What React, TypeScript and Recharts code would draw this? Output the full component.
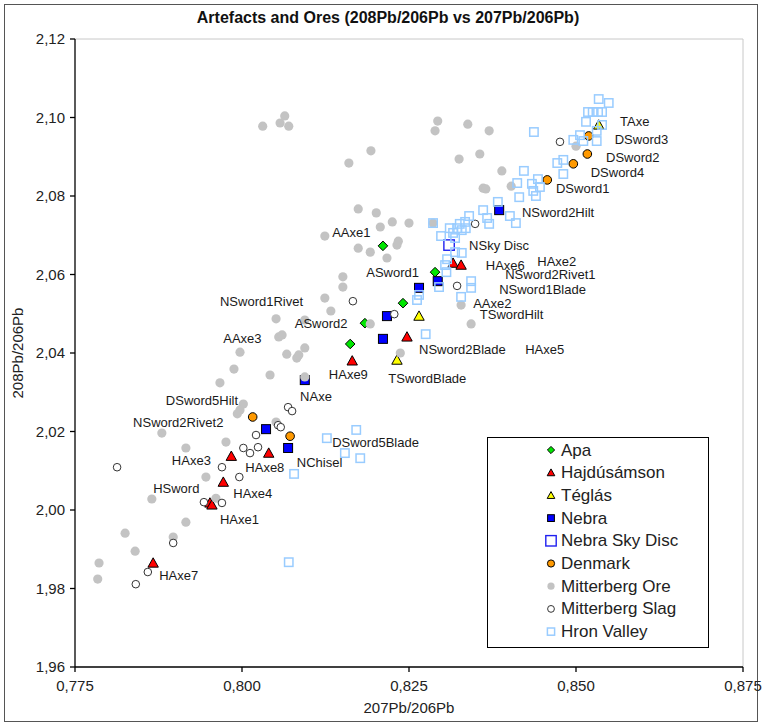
import { ScatterChart, Scatter, XAxis, YAxis, ReferenceLine } from "recharts"

const FONT = '"Liberation Sans", Arial, sans-serif'

const xTicks = [0.775, 0.8, 0.825, 0.85, 0.875]
const yTicks = [1.96, 1.98, 2.0, 2.02, 2.04, 2.06, 2.08, 2.1, 2.12]

// 207Pb/206Pb, 208Pb/206Pb pairs
const apa = [
  [0.8211, 2.0673], [0.8289, 2.0606], [0.8241, 2.0527], [0.8184, 2.0476], [0.8162, 2.0423],
]
const hajdusamson = [
  [0.8316, 2.0629], [0.8328, 2.0624], [0.8247, 2.0441], [0.8165, 2.038], [0.7984, 2.0137],
  [0.804, 2.0145], [0.7972, 2.0071], [0.7952, 2.0018], [0.7955, 2.0013], [0.7867, 1.9865],
]
const teglas = [[0.8265, 2.0494], [0.8232, 2.0382], [0.8534, 2.0981]]
const nebra = [
  [0.8385, 2.0764], [0.8293, 2.0583], [0.8265, 2.0566], [0.8217, 2.0494],
  [0.8211, 2.0436], [0.8094, 2.0331], [0.8036, 2.0206], [0.8069, 2.0158],
]
const skyDisc = [[0.831, 2.0675]]
const denmark = [
  [0.8519, 2.0953], [0.8517, 2.0907], [0.8496, 2.0882], [0.8457, 2.0841], [0.8016, 2.0237], [0.8072, 2.0188],
]
const mitterbergOre = [
  [0.8293, 2.0991], [0.8289, 2.0966], [0.8338, 2.0983], [0.837, 2.0966], [0.8193, 2.0915],
  [0.816, 2.0884], [0.8325, 2.0894], [0.8356, 2.0907], [0.8389, 2.0864], [0.8361, 2.082],
  [0.8365, 2.0818], [0.8403, 2.0825], [0.8174, 2.0767], [0.8201, 2.0757], [0.8225, 2.0734],
  [0.825, 2.0731], [0.8207, 2.0721], [0.8124, 2.0698], [0.8286, 2.0731], [0.8174, 2.0667],
  [0.8192, 2.0657], [0.8234, 2.0685], [0.8232, 2.0675], [0.8217, 2.0642], [0.8151, 2.0594],
  [0.8151, 2.0568], [0.8124, 2.054], [0.8133, 2.0507], [0.8094, 2.0484], [0.8192, 2.0474],
  [0.8328, 2.0522], [0.8343, 2.0474], [0.8094, 2.0413], [0.8237, 2.04], [0.8094, 2.0339],
  [0.8051, 2.0487], [0.8055, 2.0441], [0.806, 2.0446], [0.7997, 2.0402], [0.8067, 2.0397],
  [0.8082, 2.0387], [0.8085, 2.0395], [0.7988, 2.0359], [0.8042, 2.0344], [0.7967, 2.0324],
  [0.8002, 2.027], [0.7997, 2.0255], [0.7993, 2.0245], [0.8051, 2.0224], [0.7976, 2.0173],
  [0.788, 2.0196], [0.7916, 2.0158], [0.7946, 2.0084], [0.7865, 2.0028], [0.7961, 2.003],
  [0.7916, 1.9969], [0.7825, 1.9941], [0.7897, 1.9931], [0.784, 1.9895], [0.7786, 1.9865],
  [0.7784, 1.9824], [0.8031, 2.0978], [0.8057, 2.0986], [0.8064, 2.1004], [0.807, 2.0978],
  [0.85, 2.0927],
]
const mitterbergSlag = [
  [0.8349, 2.0729], [0.8322, 2.0571], [0.8166, 2.0532], [0.8228, 2.0499], [0.8476, 2.0938],
  [0.8021, 2.0191], [0.8054, 2.0216], [0.8058, 2.0211], [0.8069, 2.0262], [0.8075, 2.0252],
  [0.8002, 2.0158], [0.8012, 2.0145], [0.8024, 2.016], [0.797, 2.0109], [0.7813, 2.0109],
  [0.7996, 2.0084], [0.7943, 2.002], [0.797, 2.0018], [0.7897, 1.9916], [0.7859, 1.9842],
  [0.7841, 1.9811],
]
const hronValley = [
  [0.8437, 2.0963], [0.8534, 2.1047], [0.8549, 2.1037], [0.8518, 2.1014], [0.8525, 2.1014],
  [0.8533, 2.1014], [0.8539, 2.1014], [0.8515, 2.0989], [0.8539, 2.0981], [0.8531, 2.0966],
  [0.8506, 2.0955], [0.8496, 2.0943], [0.8511, 2.094], [0.8531, 2.094], [0.8472, 2.0884],
  [0.8481, 2.0892], [0.8481, 2.0856], [0.8422, 2.0864], [0.8412, 2.0833], [0.8434, 2.0831],
  [0.8443, 2.0843], [0.8436, 2.0813], [0.8446, 2.0823], [0.844, 2.08], [0.8415, 2.0797],
  [0.8383, 2.0785], [0.8361, 2.0764], [0.8367, 2.0744], [0.8401, 2.0749], [0.841, 2.0731],
  [0.837, 2.0729], [0.834, 2.0749], [0.8334, 2.0734], [0.8326, 2.0729], [0.8322, 2.0718],
  [0.8316, 2.0706], [0.8319, 2.0693], [0.8298, 2.0698], [0.8286, 2.0731], [0.8329, 2.0655],
  [0.8319, 2.0657], [0.8307, 2.0639], [0.8304, 2.0624], [0.8306, 2.0606], [0.8343, 2.0583],
  [0.8343, 2.0566], [0.8295, 2.0568], [0.8328, 2.0543], [0.8262, 2.0535], [0.8265, 2.0548],
  [0.8275, 2.0448], [0.8171, 2.0204], [0.8127, 2.0183], [0.8154, 2.0145], [0.8177, 2.0132],
  [0.8078, 2.0092], [0.807, 1.9867], [0.8329, 2.0713], [0.8311, 2.0718], [0.8335, 2.0718],
]

// sample names, placed where the labels sit (left edge, middle)
const labelNames = [
  "TAxe", "DSword3", "DSword2", "DSword4", "DSword1", "NSword2Hilt", "NSky Disc", "AAxe1",
  "ASword1", "HAxe6", "HAxe2", "NSword2Rivet1", "NSword1Blade", "AAxe2", "TSwordHilt",
  "NSword1Rivet", "ASword2", "AAxe3", "NSword2Blade", "HAxe5", "HAxe9", "TSwordBlade", "NAxe",
  "DSword5Hilt", "NSword2Rivet2", "DSword5Blade", "HAxe3", "NChisel", "HAxe8", "HSword",
  "HAxe4", "HAxe1", "HAxe7",
]
const labelAt = [
  [0.8566, 2.0989], [0.8558, 2.0945], [0.8545, 2.0897], [0.8522, 2.0859], [0.847, 2.0818],
  [0.8419, 2.0759], [0.834, 2.0673], [0.8135, 2.0706], [0.8186, 2.0606], [0.8365, 2.0624],
  [0.8442, 2.0632], [0.8394, 2.0599], [0.8385, 2.0563], [0.8346, 2.0527], [0.8356, 2.0499],
  [0.7967, 2.053], [0.8079, 2.0474], [0.7972, 2.0438], [0.8265, 2.0408], [0.8424, 2.0408],
  [0.813, 2.0346], [0.8219, 2.0336], [0.8087, 2.029], [0.7886, 2.028], [0.7837, 2.0224],
  [0.8135, 2.0173], [0.7895, 2.0127], [0.8082, 2.012], [0.8005, 2.0109], [0.7867, 2.0056],
  [0.7987, 2.0043], [0.7967, 1.9977], [0.7876, 1.9834],
]

const seriesNames = [
  "Apa", "Hajdúsámson", "Téglás", "Nebra", "Nebra Sky Disc", "Denmark",
  "Mitterberg Ore", "Mitterberg Slag", "Hron Valley",
]
const seriesData = [apa, hajdusamson, teglas, nebra, skyDisc, denmark, mitterbergOre, mitterbergSlag, hronValley]

type Style = { kind: string; s: number; ls: number; fill: string; stroke: string; sw: number }
const styles: Style[] = [
  { kind: "diamond", s: 4.8, ls: 3.6, fill: "#00e600", stroke: "#000", sw: 1 },
  { kind: "triangle", s: 5.2, ls: 3.8, fill: "#ff0000", stroke: "#000", sw: 1 },
  { kind: "triangle", s: 5.2, ls: 3.8, fill: "#ffff00", stroke: "#000", sw: 1 },
  { kind: "square", s: 4.5, ls: 3.4, fill: "#0000ff", stroke: "#000", sw: 1 },
  { kind: "square", s: 5.2, ls: 5.2, fill: "none", stroke: "#2020f0", sw: 1.4 },
  { kind: "circle", s: 4.3, ls: 3.6, fill: "#ff9900", stroke: "#000", sw: 1 },
  { kind: "circle", s: 4.6, ls: 3.6, fill: "#c3c3c3", stroke: "none", sw: 0 },
  { kind: "circle", s: 3.8, ls: 3.4, fill: "#fff", stroke: "#333", sw: 1 },
  { kind: "square", s: 4.2, ls: 3.6, fill: "none", stroke: "#99ccff", sw: 1.5 },
]

const fmt = (d: number) => (v: number) => v.toFixed(d).replace(".", ",")

function Marker({ cx, cy, st, size }: { cx: number; cy: number; st: Style; size: number }) {
  const s = size
  const common = { fill: st.fill, stroke: st.stroke, strokeWidth: st.sw }
  if (st.kind === "diamond")
    return <polygon points={`${cx},${cy - s} ${cx + s},${cy} ${cx},${cy + s} ${cx - s},${cy}`} {...common} />
  if (st.kind === "triangle")
    return <polygon points={`${cx},${cy - s} ${cx + s},${cy + s * 0.8} ${cx - s},${cy + s * 0.8}`} {...common} />
  if (st.kind === "square") return <rect x={cx - s} y={cy - s} width={2 * s} height={2 * s} {...common} />
  return <circle cx={cx} cy={cy} r={s} {...common} />
}

const labelPoints = labelNames.map((name, i) => ({ name, x: labelAt[i][0], y: labelAt[i][1] }))

export default function App() {
  return (
    <div style={{ position: "absolute", left: 0, top: 0, width: 765, height: 726, background: "#fff", fontFamily: FONT }}>
      <div style={{ position: "absolute", left: 4, top: 4, width: 752, height: 716, border: "1.5px solid #555" }} />
      <ScatterChart width={765} height={726} margin={{ top: 39, right: 22, bottom: 19, left: 15 }}>
        <XAxis
          type="number"
          dataKey="x"
          domain={[0.775, 0.875]}
          ticks={xTicks}
          tickFormatter={fmt(3)}
          height={40}
          axisLine={{ stroke: "#000", strokeWidth: 1.3 }}
          tickLine={{ stroke: "#000", strokeWidth: 1.3 }}
          tickSize={5}
          tickMargin={8}
          tick={{ fill: "#222", fontSize: 15, fontFamily: FONT }}
        />
        <YAxis
          type="number"
          dataKey="y"
          domain={[1.96, 2.12]}
          ticks={yTicks}
          tickFormatter={fmt(2)}
          width={60}
          axisLine={{ stroke: "#000", strokeWidth: 1.3 }}
          tickLine={{ stroke: "#000", strokeWidth: 1.3 }}
          tickSize={5}
          tickMargin={5}
          tick={{ fill: "#222", fontSize: 15, fontFamily: FONT }}
        />
        <ReferenceLine y={2.12} stroke="#c8c8c8" />
        <ReferenceLine x={0.875} stroke="#c8c8c8" />
        {seriesData.map((d, i) => (
          <Scatter
            key={seriesNames[i]}
            name={seriesNames[i]}
            data={d.map(([x, y]) => ({ x, y }))}
            isAnimationActive={false}
            shape={(p: any) => <Marker cx={p.cx} cy={p.cy} st={styles[i]} size={styles[i].s} />}
          />
        ))}
        <Scatter
          name="labels"
          data={labelPoints}
          isAnimationActive={false}
          shape={(p: any) => (
            <text x={p.cx} y={p.cy} dominantBaseline="central" fontSize={13} fill="#1a1a1a" fontFamily={FONT}>
              {p.payload.name}
            </text>
          )}
        />
      </ScatterChart>
      <div style={{ position: "absolute", left: 188, top: 8, width: 400, textAlign: "center", fontWeight: "bold", fontSize: 16, lineHeight: "20px", color: "#111" }}>
        Artefacts and Ores (208Pb/206Pb vs 207Pb/206Pb)
      </div>
      <div style={{ position: "absolute", left: 309, top: 698, width: 200, textAlign: "center", fontSize: 15, lineHeight: "20px", color: "#222" }}>
        207Pb/206Pb
      </div>
      <div style={{ position: "absolute", left: -82, top: 343, width: 200, textAlign: "center", fontSize: 15, lineHeight: "20px", color: "#222", transform: "rotate(-90deg)" }}>
        208Pb/206Pb
      </div>
      <div style={{ position: "absolute", left: 487, top: 437, width: 220, height: 209, border: "1px solid #000", background: "#fff" }}>
        <svg width={220} height={209}>
          {seriesNames.map((n, i) => (
            <g key={n}>
              <Marker cx={63} cy={12 + i * 22.7} st={styles[i]} size={styles[i].ls} />
              <text x={73} y={12 + i * 22.7} dominantBaseline="central" fontSize={17} fill="#222" fontFamily={FONT}>
                {n}
              </text>
            </g>
          ))}
        </svg>
      </div>
    </div>
  )
}
